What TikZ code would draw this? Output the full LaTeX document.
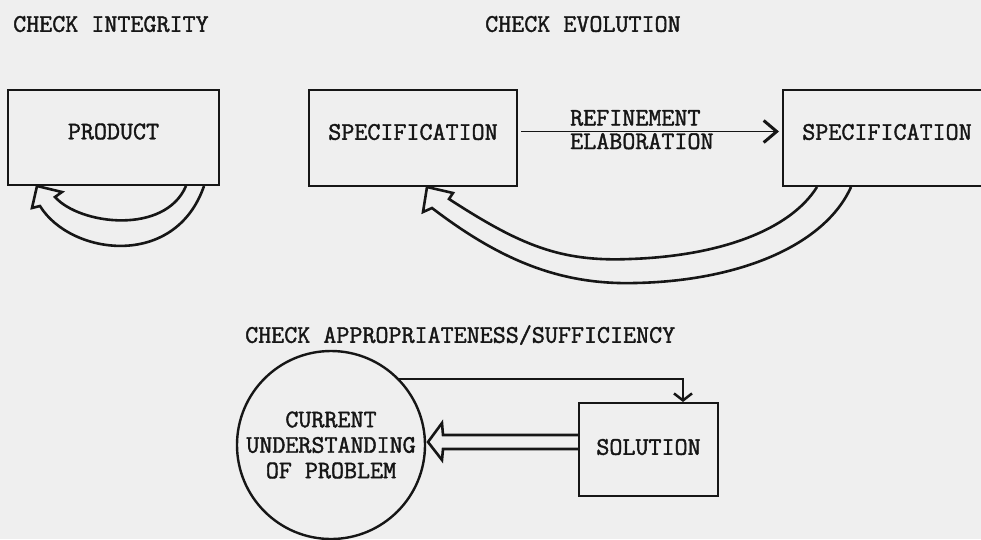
\documentclass[tikz,border=0pt]{standalone}
\usepackage{fontspec}
\usetikzlibrary{arrows.meta,calc}
\newfontfamily\typewriter{Latin Modern Mono}[BoldFont={Latin Modern Mono},BoldFeatures={FakeBold=1.6}]
\definecolor{paper}{RGB}{239,239,239}
\definecolor{ink}{RGB}{22,22,22}
\begin{document}
\begin{tikzpicture}[x=1pt,y=-1pt,
  font=\typewriter\bfseries\fontsize{25.3}{25.5}\selectfont,
  every node/.style={text=ink},
  heading/.style={anchor=west,inner sep=0pt,text height=15.5pt,text depth=0pt},
  boxnode/.style={draw=ink,line width=2pt,rectangle,inner sep=0pt},
  raised/.style={text height=15.5pt,text depth=12pt},
  bubble/.style={draw=ink,line width=2.4pt,circle,inner sep=0pt,minimum size=188pt,align=center},
  edgelabel/.style={anchor=base west,inner sep=0pt},
  link/.style={draw=ink,line width=1.6pt},
  hollow/.style={draw=ink,line width=2.6pt,line join=miter},
  chevron/.style={-{Straight Barb[length=13pt,width=22pt,line width=3pt]}},
  smallchevron/.style={-{Straight Barb[length=7pt,width=18pt,line width=2.5pt]}}
]
\useasboundingbox (0,0) rectangle (981,539);
\fill[paper] (0,0) rectangle (981,539);
\clip (0,0) rectangle (981,539);

% headings
\node[heading] (h1) at (13,24) {CHECK INTEGRITY};
\node[heading] (h2) at (485,24) {CHECK EVOLUTION};
\node[heading] (h3) at (245,335) {CHECK APPROPRIATENESS/SUFFICIENCY};

% integrity: product checked against itself
\node[boxnode,raised,minimum width=211pt,minimum height=95pt] (product) at (113.5,137.5) {PRODUCT\hspace{26pt}};
\draw[hollow] ([xshift=197pt]product.south west)
  .. controls (175,270) and (70,255) .. (40,206)
  -- (32,208) -- ([xshift=30pt]product.south west) -- (62,192) -- (55,197)
  .. controls (80,225) and (165,235) .. ([xshift=179pt]product.south west);

% evolution: specification refined into specification
\node[boxnode,raised,minimum width=208pt,minimum height=96pt] (spec1) at (413,138) {SPECIFICATION};
\node[boxnode,raised,minimum width=208pt,minimum height=96pt] (spec2) at (887,138) {SPECIFICATION};
\draw[link,chevron] ([yshift=6.5pt,xshift=3pt]spec1.east) -- ([yshift=6.5pt,xshift=-3pt]spec2.west);
\node[edgelabel] (refine) at (570,125.5) {REFINEMENT};
\node[edgelabel] (elab) at (570,149) {ELABORATION};
\draw[hollow] ([xshift=69pt]spec2.south west)
  .. controls (825,245) and (740,281) .. (635,283)
  .. controls (560,285) and (500,260) .. (432,208)
  -- (423,212) -- ([xshift=14pt]spec1.south) -- (453,193) -- (449,199)
  .. controls (520,245) and (560,262) .. (630,259)
  .. controls (720,256) and (790,230) .. ([xshift=35pt]spec2.south west);

% appropriateness: understanding against solution
\node[bubble] (understanding) at (331,445) {CURRENT\\UNDERSTANDING\\OF PROBLEM};
\node[boxnode,text height=15.5pt,text depth=5pt,minimum width=139pt,minimum height=93pt] (solution) at (648.5,449.5) {SOLUTION};
\draw[link,line width=1.8pt,smallchevron] (understanding.44) -| ([xshift=34.5pt]solution.north);
\draw[hollow] ([yshift=14.5pt]solution.west) -- (443,435) -- (442,423)
  -- (428,442) -- (442,460) -- (443,449) -- ([yshift=0.5pt]solution.west);
\end{tikzpicture}
\end{document}
